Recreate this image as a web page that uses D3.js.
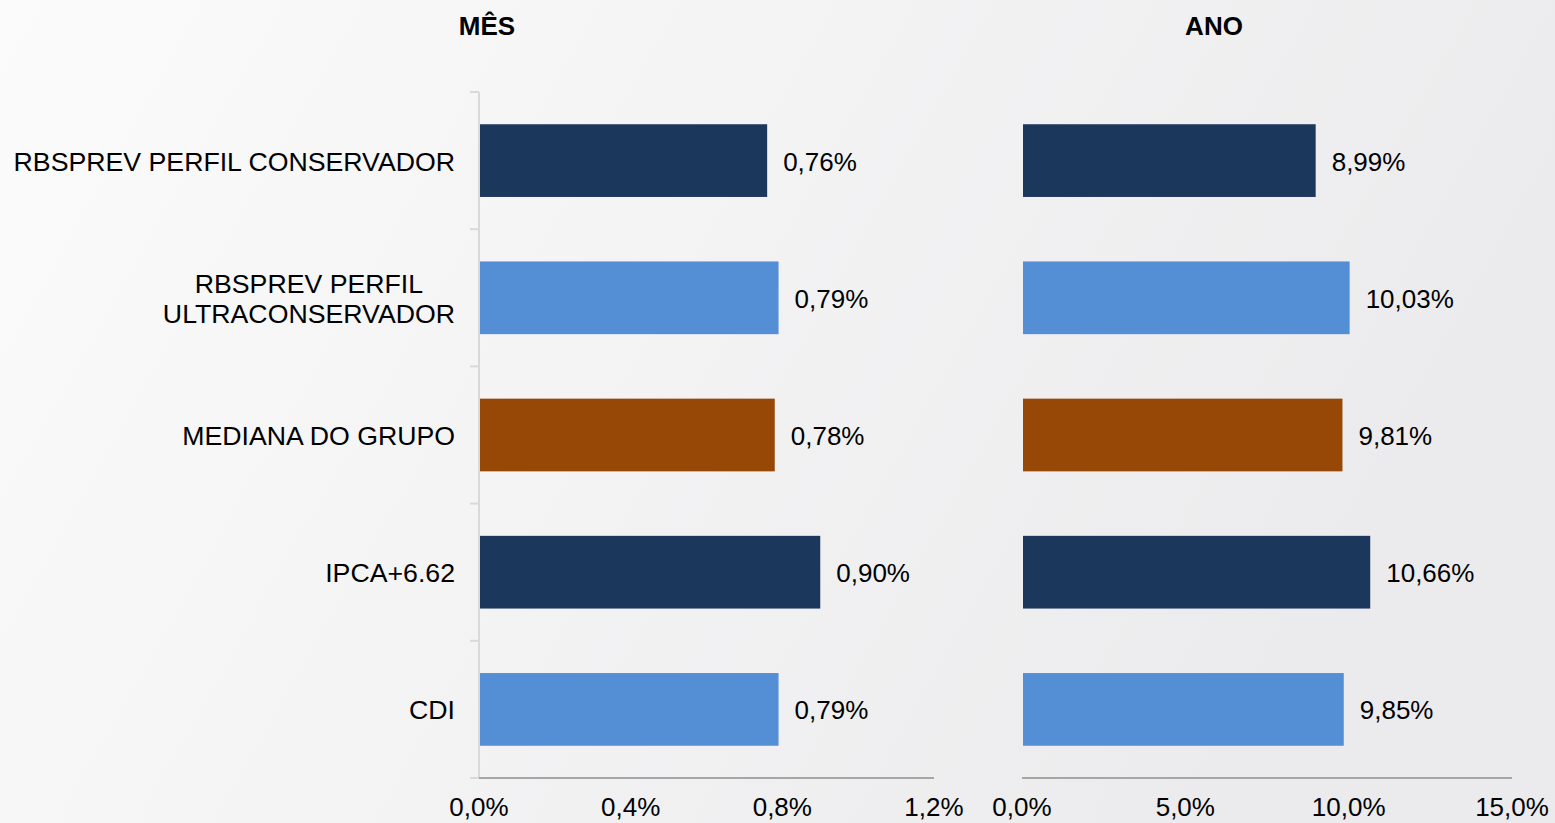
<!DOCTYPE html>
<html>
<head>
<meta charset="utf-8">
<script src="https://cdn.jsdelivr.net/npm/d3@7"></script>
<style>
  body { margin: 0; overflow: hidden; }
  text { font-family: "Liberation Sans", Arial, sans-serif; fill: #000; }
</style>
</head>
<body>
<script>
var categories = ["RBSPREV PERFIL CONSERVADOR", "RBSPREV PERFIL ULTRACONSERVADOR", "MEDIANA DO GRUPO", "IPCA+6.62", "CDI"];
var labelLines = [["RBSPREV PERFIL CONSERVADOR"], ["RBSPREV PERFIL", "ULTRACONSERVADOR"], ["MEDIANA DO GRUPO"], ["IPCA+6.62"], ["CDI"]];
var mesValues = [0.76, 0.79, 0.78, 0.90, 0.79];
var anoValues = [8.99, 10.03, 9.81, 10.66, 9.85];
var barColors = ["#1b375c", "#548fd6", "#974806", "#1b375c", "#548fd6"];
var mesTicks = [0, 0.4, 0.8, 1.2];
var anoTicks = [0, 5, 10, 15];

var width = 1555, height = 823;

var svg = d3.select("body").append("svg")
  .attr("width", width)
  .attr("height", height);

// background gradient
var defs = svg.append("defs");
var grad = defs.append("linearGradient").attr("id", "bg")
  .attr("x1", "0%").attr("y1", "0%").attr("x2", "100%").attr("y2", "30%");
grad.append("stop").attr("offset", "0%").attr("stop-color", "#fbfbfb");
grad.append("stop").attr("offset", "100%").attr("stop-color", "#ebebed");
svg.append("rect").attr("width", width).attr("height", height).attr("fill", "url(#bg)");

var fmt = function(v, d) { return v.toFixed(d).replace(".", ",") + "%"; };

var y = d3.scaleBand().domain(categories).range([92, 778]).paddingInner(0.47).paddingOuter(0.235);

function panel(values, ticks, x0, x1, title, showY) {
  var x = d3.scaleLinear().domain([ticks[0], ticks[ticks.length - 1]]).range([x0, x1]);
  var g = svg.append("g");

  if (showY) {
    var ya = g.append("g").attr("transform", "translate(" + x0 + ",0)");
    ya.append("line").attr("y1", 92).attr("y2", 778).attr("stroke", "#d9d9d9").attr("stroke-width", 2);
    var bounds = d3.range(categories.length + 1).map(function(i) { return 92 + i * 686 / categories.length; });
    ya.selectAll(".tk").data(bounds).enter().append("line")
      .attr("x1", -9).attr("x2", 0)
      .attr("y1", function(d) { return d; }).attr("y2", function(d) { return d; })
      .attr("stroke", "#d9d9d9").attr("stroke-width", 2);
  }

  g.append("line").attr("x1", x0).attr("x2", x1).attr("y1", 778).attr("y2", 778)
    .attr("stroke", "#a6a6a6").attr("stroke-width", 2);

  g.selectAll(".tl").data(ticks).enter().append("text")
    .attr("x", function(d) { return x(d); })
    .attr("y", 816)
    .attr("text-anchor", "middle")
    .style("font-size", "26px")
    .text(function(d) { return fmt(d, 1); });

  g.selectAll(".bar").data(values).enter().append("rect")
    .attr("x", x(0) + 1)
    .attr("y", function(d, i) { return y(categories[i]); })
    .attr("width", function(d) { return x(d) - x(0) - 1; })
    .attr("height", y.bandwidth())
    .attr("fill", function(d, i) { return barColors[i]; });

  g.selectAll(".val").data(values).enter().append("text")
    .attr("x", function(d) { return x(d) + 16; })
    .attr("y", function(d, i) { return y(categories[i]) + y.bandwidth() / 2 + 10; })
    .style("font-size", "26px")
    .text(function(d) { return fmt(d, 2); });

  svg.append("text")
    .attr("x", title.x).attr("y", 35)
    .attr("text-anchor", "middle")
    .style("font-size", "26px").style("font-weight", "bold")
    .text(title.t);
}

panel(mesValues, mesTicks, 479, 934, { t: "MÊS", x: 487 }, true);
panel(anoValues, anoTicks, 1022, 1512, { t: "ANO", x: 1214 }, false);

// category labels
var lab = svg.append("g");
labelLines.forEach(function(lines, i) {
  var cy = y(categories[i]) + y.bandwidth() / 2;
  var t = lab.append("text").attr("text-anchor", "middle").style("font-size", "26.7px");
  var lh = 30;
  lines.forEach(function(s, j) {
    t.append("tspan")
      .attr("x", 0)
      .attr("y", cy + 10 + (j - (lines.length - 1) / 2) * lh)
      .text(s);
  });
});
// right align each line block at x=455
lab.selectAll("text").each(function() {
  var t = d3.select(this);
  var tsp = t.selectAll("tspan");
  if (tsp.size() > 1) {
    var w = this.getBBox().width;
    tsp.attr("x", 455 - w / 2);
  } else {
    t.attr("text-anchor", "end");
    tsp.attr("x", 455);
  }
});
</script>
</body>
</html>
